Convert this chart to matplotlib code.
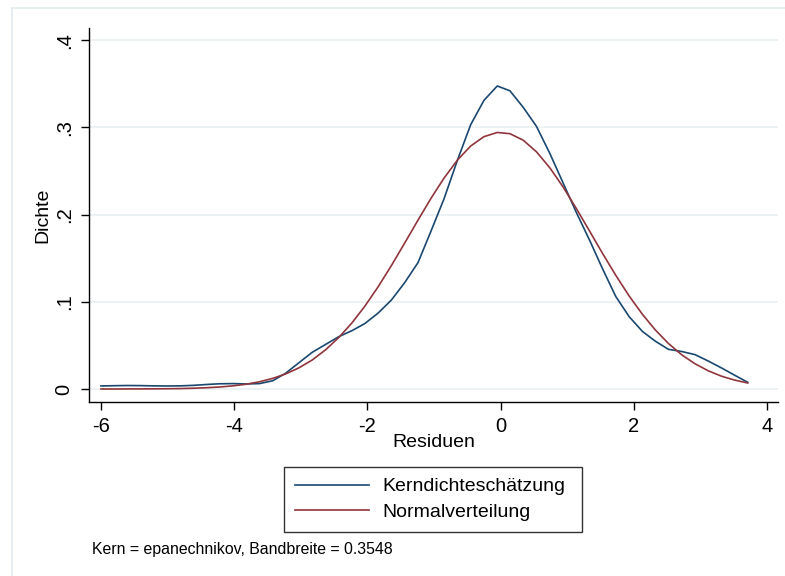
import matplotlib
matplotlib.use('Agg')
import matplotlib.pyplot as plt
from matplotlib.lines import Line2D

plt.rcParams['font.family'] = ['Liberation Sans', 'DejaVu Sans']
plt.rcParams['axes.unicode_minus'] = False

# kdensity grid (50 points over the range of the residuals)
xgrid = [-6.00, -5.80, -5.60, -5.41, -5.21, -5.01, -4.81, -4.61, -4.41, -4.22,
         -4.02, -3.82, -3.62, -3.42, -3.23, -3.03, -2.83, -2.63, -2.43, -2.23,
         -2.04, -1.84, -1.64, -1.44, -1.24, -1.04, -0.85, -0.65, -0.45, -0.25,
         -0.05, 0.14, 0.34, 0.54, 0.74, 0.94, 1.14, 1.34, 1.53, 1.73,
         1.93, 2.13, 2.32, 2.52, 2.72, 2.92, 3.12, 3.32, 3.51, 3.71]

# kernel density estimate
kdens = [0.0035, 0.0038, 0.0040, 0.0039, 0.0036, 0.0035, 0.0036, 0.0042, 0.0052, 0.0060,
         0.0062, 0.0058, 0.0062, 0.0095, 0.0180, 0.0300, 0.0420, 0.0510, 0.0600, 0.0670,
         0.0750, 0.0870, 0.1020, 0.1220, 0.1450, 0.1820, 0.2180, 0.2620, 0.3030, 0.3310,
         0.3475, 0.3420, 0.3230, 0.3010, 0.2700, 0.2360, 0.2020, 0.1700, 0.1380, 0.1060,
         0.0830, 0.0660, 0.0550, 0.0455, 0.0430, 0.0394, 0.0320, 0.0240, 0.0160, 0.0077]

# normal density on the same grid
ndens = [0.0000, 0.0000, 0.0001, 0.0001, 0.0002, 0.0003, 0.0005, 0.0009, 0.0015, 0.0023,
         0.0036, 0.0055, 0.0083, 0.0122, 0.0172, 0.0242, 0.0332, 0.0448, 0.0590, 0.0760,
         0.0948, 0.1171, 0.1415, 0.1674, 0.1937, 0.2193, 0.2418, 0.2624, 0.2786, 0.2894,
         0.2942, 0.2928, 0.2853, 0.2719, 0.2536, 0.2315, 0.2066, 0.1806, 0.1556, 0.1303,
         0.1067, 0.0856, 0.0680, 0.0522, 0.0392, 0.0289, 0.0208, 0.0146, 0.0103, 0.0069]

xticks = [-6, -4, -2, 0, 2, 4]
yticks = [0, 0.1, 0.2, 0.3, 0.4]
ytick_labels = ['0', '.1', '.2', '.3', '.4']
series_names = ['Kerndichteschätzung', 'Normalverteilung']
note = 'Kern = epanechnikov, Bandbreite = 0.3548'

blue = '#1a476f'
red = '#90353b'
gridcol = '#eaf0f2'

W, H = 785, 576
fig = plt.figure(figsize=(W / 100, H / 100), dpi=100)
fig.patch.set_facecolor('white')

# faint outer graph region border (left and top edges)
fig.add_artist(Line2D([11.5 / W, 11.5 / W], [0, 1 - 8 / H], color='#e3ebee', lw=1.2))
fig.add_artist(Line2D([11.5 / W, 1], [1 - 8 / H, 1 - 8 / H], color='#e3ebee', lw=1.2))

ax = fig.add_axes([89 / W, 1 - 402 / H, (778 - 89) / W, (402 - 28) / H])
ax.plot(xgrid, kdens, color=blue, lw=1.2, label=series_names[0], zorder=3,
        solid_joinstyle='round')
ax.plot(xgrid, ndens, color=red, lw=1.2, label=series_names[1], zorder=3,
        solid_joinstyle='round')

ax.set_xlim(-6.18, 4.165)
ax.set_ylim(-0.0149, 0.414)
ax.set_xticks(xticks)
ax.set_yticks(yticks)
ax.set_yticklabels(ytick_labels, rotation=90, va='center')
ax.grid(axis='y', color=gridcol, lw=1.3)
ax.set_axisbelow(True)

for side in ['top', 'right']:
    ax.spines[side].set_visible(False)
for side in ['left', 'bottom']:
    ax.spines[side].set_color('black')
    ax.spines[side].set_linewidth(1.0)

ax.tick_params(axis='both', labelsize=14.5, length=6, width=1.0, color='black')
ax.tick_params(axis='x', pad=5)
ax.tick_params(axis='y', pad=5)

ax.set_xlabel('Residuen', fontsize=14)
ax.set_ylabel('Dichte', fontsize=14)
ax.xaxis.set_label_coords(0.5, -0.085)
ax.yaxis.set_label_coords(-0.054, 0.5)

# legend box spans a fixed width below the plot
leg = fig.legend(loc='upper left', mode='expand',
                 bbox_to_anchor=(284 / W, 1 - 531 / H, 298 / W, 64 / H),
                 fontsize=14, frameon=True, fancybox=False, edgecolor='black',
                 handlelength=3.8, handletextpad=0.7, borderpad=0.55,
                 labelspacing=0.42, borderaxespad=0)
leg.get_frame().set_linewidth(1.0)

fig.text(92 / W, 1 - 554 / H, note, fontsize=11.4, va='baseline', ha='left')

fig.savefig('out.png', dpi=100)
